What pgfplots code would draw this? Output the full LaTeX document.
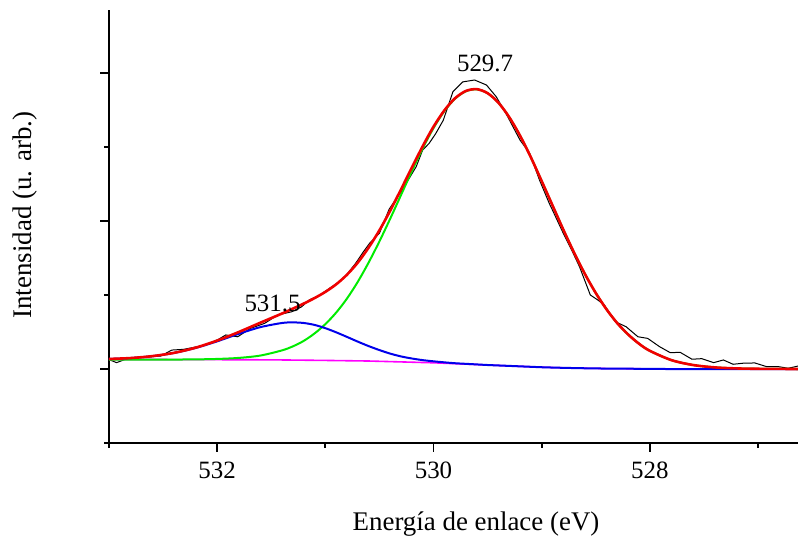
\documentclass[border=0pt]{standalone}
\usepackage{fontspec}
\setmainfont{Liberation Serif}
\usepackage{pgfplots}
\pgfplotsset{compat=1.18}
\definecolor{cred}{RGB}{240,0,0}
\definecolor{cgreen}{RGB}{0,235,0}
\definecolor{cblue}{RGB}{0,0,235}
\definecolor{cmag}{RGB}{255,0,255}
\begin{document}
\begin{tikzpicture}
\begin{axis}[name=ax,
  scale only axis, width=344.5bp, height=216.5bp,
  x dir=reverse, xmin=526.63, xmax=533.0, ymin=-0.5, ymax=2.426,
  axis x line*=bottom, axis y line*=left,
  axis line style={-, line width=1bp},
  xtick={528,530,532}, minor xtick={527,529,531,533},
  ytick={0,1,2}, yticklabels={}, minor ytick={-0.5,0.5,1.5},
  tick align=outside, major tick length=4.3bp, minor tick length=2.4bp,
  every tick/.style={black, line width=0.9bp},
  /pgf/number format/assume math mode=true,
  xticklabel style={font=\fontsize{12.5}{14}\selectfont, yshift=-1.5bp},
  xlabel={Energía de enlace (eV)}, ylabel={Intensidad (u. arb.)},
  label style={font=\fontsize{13.5}{16}\selectfont},
  xlabel style={at={(axis description cs:0.5327,-0.187)}, anchor=center},
  ylabel style={at={(axis description cs:-0.1219,0.5266)}, anchor=center},
]
% measured data
\addplot[black, line width=0.5bp] coordinates {
(533.00,0.064) (532.93,0.043) (532.81,0.076) (532.70,0.080) (532.62,0.082)
(532.52,0.088) (532.42,0.128) (532.31,0.133) (532.21,0.147) (532.12,0.160)
(532.06,0.178) (531.99,0.200) (531.92,0.230) (531.81,0.218) (531.69,0.275)
(531.56,0.309) (531.44,0.365) (531.31,0.387) (531.22,0.420) (531.15,0.466)
(531.05,0.500) (530.94,0.556) (530.87,0.590) (530.80,0.640) (530.72,0.714)
(530.65,0.790) (530.59,0.850) (530.50,0.917) (530.41,1.080) (530.31,1.187)
(530.24,1.270) (530.16,1.367) (530.10,1.480) (530.04,1.525) (529.98,1.590)
(529.91,1.680) (529.82,1.874) (529.73,1.940) (529.62,1.953) (529.51,1.919)
(529.42,1.840) (529.33,1.727) (529.20,1.547) (529.11,1.457) (529.02,1.277)
(528.93,1.120) (528.90,1.074) (528.80,0.917) (528.72,0.800) (528.65,0.691)
(528.55,0.500) (528.48,0.466) (528.42,0.432) (528.32,0.320) (528.22,0.286)
(528.11,0.218) (528.02,0.207) (527.91,0.151) (527.81,0.110) (527.72,0.113)
(527.61,0.066) (527.52,0.070) (527.41,0.043) (527.32,0.061) (527.23,0.032)
(527.14,0.039) (527.03,0.041) (526.92,0.016) (526.81,0.016) (526.72,0.005)
(526.63,0.020)
};
% background
\addplot[cmag, line width=0.8bp] coordinates {
(533.0,0.064) (532.5,0.064) (532.0,0.063) (531.5,0.062) (531.0,0.058)
(530.8,0.056) (530.6,0.054) (530.4,0.050) (530.2,0.046) (530.0,0.042)
(529.8,0.036) (529.6,0.030) (529.4,0.024) (529.2,0.018) (529.0,0.012)
(528.8,0.008) (528.6,0.005) (528.4,0.003) (528.2,0.002) (528.0,0.001)
(527.8,0.0) (526.63,0.0)
};
% component 529.7
\addplot[cgreen, line width=1bp, smooth] coordinates {
(533.0,0.064) (532.8,0.064) (532.6,0.064) (532.4,0.064) (532.2,0.065)
(532.0,0.068) (531.8,0.075) (531.6,0.091) (531.4,0.126) (531.3,0.153)
(531.2,0.190) (531.1,0.240) (531.0,0.303) (530.9,0.381) (530.8,0.476)
(530.7,0.589) (530.6,0.719) (530.5,0.862) (530.4,1.016) (530.3,1.176)
(530.2,1.337) (530.1,1.490) (530.0,1.628) (529.9,1.742) (529.8,1.827)
(529.7,1.877) (529.6,1.890) (529.5,1.864) (529.4,1.800) (529.3,1.702)
(529.2,1.577) (529.1,1.431) (529.0,1.270) (528.9,1.106) (528.8,0.942)
(528.7,0.786) (528.6,0.642) (528.5,0.514) (528.4,0.403) (528.3,0.309)
(528.2,0.233) (528.1,0.171) (528.0,0.123) (527.8,0.060) (527.6,0.027)
(527.4,0.011) (527.2,0.004) (527.0,0.0015) (526.63,0.0)
};
% component 531.5
\addplot[cblue, line width=1bp, smooth] coordinates {
(533.0,0.068) (532.8,0.074) (532.6,0.087) (532.4,0.1085) (532.2,0.142)
(532.0,0.187) (531.8,0.238) (531.6,0.283) (531.4,0.311) (531.3,0.315)
(531.2,0.311) (531.1,0.298) (531.0,0.276) (530.9,0.248) (530.8,0.217)
(530.7,0.185) (530.6,0.155) (530.5,0.128) (530.4,0.104) (530.3,0.085)
(530.2,0.071) (530.1,0.060) (530.0,0.052) (529.9,0.045) (529.8,0.039)
(529.7,0.035) (529.6,0.031) (529.5,0.027) (529.4,0.024) (529.2,0.018)
(529.0,0.012) (528.8,0.008) (528.6,0.005) (528.4,0.003) (528.2,0.002)
(528.0,0.001) (527.8,0.0) (526.63,0.0)
};
% envelope
\addplot[cred, line width=1.3bp, smooth] coordinates {
(533.0,0.068) (532.8,0.074) (532.6,0.087) (532.4,0.109) (532.2,0.144)
(532.0,0.192) (531.8,0.250) (531.6,0.313) (531.4,0.375) (531.3,0.408)
(531.2,0.442) (531.1,0.479) (531.0,0.521) (530.9,0.572) (530.8,0.637)
(530.7,0.719) (530.6,0.820) (530.5,0.937) (530.4,1.070) (530.3,1.214)
(530.2,1.361) (530.1,1.505) (530.0,1.637) (529.9,1.747) (529.8,1.830)
(529.7,1.879) (529.6,1.891) (529.5,1.864) (529.4,1.800) (529.3,1.702)
(529.2,1.577) (529.1,1.431) (529.0,1.270) (528.9,1.106) (528.8,0.942)
(528.7,0.786) (528.6,0.642) (528.5,0.514) (528.4,0.403) (528.3,0.309)
(528.2,0.233) (528.1,0.171) (528.0,0.123) (527.8,0.060) (527.6,0.027)
(527.4,0.011) (527.2,0.004) (527.0,0.0015) (526.63,0.0)
};
\node[font=\fontsize{12.5}{15}\selectfont] at (axis cs:529.523,2.064) {529.7};
\node[font=\fontsize{12.5}{15}\selectfont] at (axis cs:531.488,0.444) {531.5};
\end{axis}
\pgfresetboundingbox
\path[use as bounding box] ([shift={(-54.5bp,-48bp)}]ax.south west) rectangle ++(399bp,269.5bp);
\end{tikzpicture}
\end{document}
